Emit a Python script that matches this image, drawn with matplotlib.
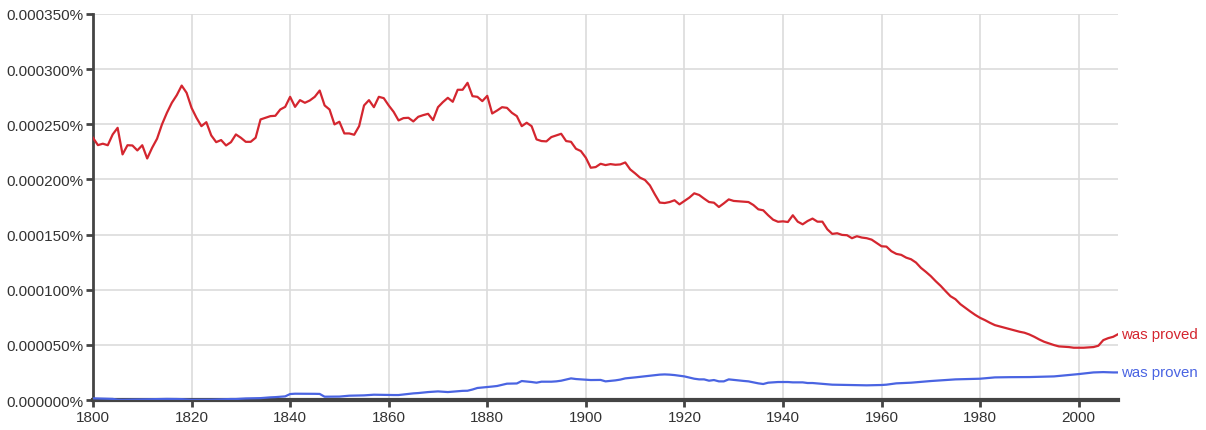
import numpy as np
import matplotlib.pyplot as plt
from matplotlib.ticker import FuncFormatter

plt.rcParams['font.family'] = ['Liberation Sans', 'DejaVu Sans']

years = list(range(1800, 2009))

# values in millionths of a percent
was_proved = [
    237.8, 231.1, 232.4, 231.0, 240.8, 246.8, 222.7, 231.0, 230.8, 226.3,
    231.0, 219.0, 228.7, 236.9, 249.9, 260.4, 269.5, 276.4, 285.1, 278.5,
    264.9, 255.9, 248.3, 251.9, 239.9, 233.8, 235.7, 230.8, 233.8, 240.8,
    237.8, 234.1, 234.1, 237.8, 254.4, 255.9, 257.4, 257.7, 263.4, 265.8,
    274.9, 265.8, 271.9, 269.5, 271.6, 274.9, 280.6, 267.1, 263.4, 249.9,
    252.3, 241.7, 241.7, 240.5, 248.3, 267.1, 271.9, 265.5, 274.9, 273.7,
    267.1, 261.3, 253.5, 255.6, 255.9, 252.6, 256.8, 258.3, 259.5, 253.8,
    265.5, 270.1, 274.0, 270.4, 281.3, 281.3, 287.6, 275.5, 274.9, 271.0,
    275.8, 259.8, 262.5, 265.5, 264.9, 260.4, 257.4, 248.3, 251.4, 248.3,
    236.3, 234.8, 234.5, 238.4, 239.9, 241.4, 234.8, 234.1, 227.8, 225.7,
    219.7, 210.6, 211.2, 214.2, 213.0, 213.9, 213.3, 213.6, 215.4, 209.1,
    205.5, 201.6, 199.5, 194.6, 186.5, 179.0, 178.6, 179.5, 181.1, 177.4,
    180.5, 183.5, 187.4, 185.9, 182.6, 179.5, 178.9, 175.0, 178.3, 181.9,
    180.5, 180.2, 179.8, 179.5, 176.8, 172.9, 172.0, 167.5, 163.5, 161.6,
    162.0, 161.4, 167.5, 161.7, 159.3, 162.3, 164.5, 161.7, 161.7, 154.8,
    150.6, 151.2, 149.7, 149.4, 146.7, 148.5, 147.3, 146.7, 145.4, 142.4,
    139.4, 139.1, 134.9, 132.5, 131.6, 129.1, 127.6, 124.6, 119.8, 116.2,
    112.3, 107.7, 103.5, 98.7, 94.1, 91.4, 86.9, 83.6, 80.3, 77.2,
    74.5, 72.4, 70.0, 67.9, 66.7, 65.5, 64.3, 63.1, 61.9, 61.0,
    59.4, 57.3, 54.9, 52.8, 51.3, 49.8, 48.6, 48.3, 48.0, 47.4,
    47.4, 47.4, 47.7, 48.0, 49.2, 54.3, 56.1, 57.3, 59.7,
]

was_proven = [
    1.5, 1.4, 1.3, 1.2, 1.0, 0.3, 0.2, 0.3, 0.4, 0.5,
    0.6, 0.7, 0.8, 0.9, 1.0, 1.0, 1.0, 0.9, 0.8, 0.5,
    0.2, 0.2, 0.2, 0.2, 0.3, 0.4, 0.6, 0.8, 0.9, 0.9,
    1.2, 1.4, 1.5, 1.6, 1.7, 2.1, 2.4, 2.6, 3.0, 3.3,
    5.4, 5.7, 5.7, 5.7, 5.6, 5.6, 5.5, 3.0, 3.0, 3.0,
    3.1, 3.5, 3.9, 4.0, 4.1, 4.2, 4.5, 4.8, 4.7, 4.6,
    4.5, 4.5, 4.5, 5.0, 5.5, 6.0, 6.3, 6.8, 7.2, 7.5,
    7.8, 7.5, 7.2, 7.6, 8.1, 8.3, 8.4, 9.5, 10.9, 11.3,
    11.8, 12.2, 12.7, 13.8, 14.8, 14.9, 15.0, 17.2, 16.8, 16.3,
    15.7, 16.6, 16.6, 16.6, 16.9, 17.5, 18.5, 19.6, 19.0, 18.7,
    18.5, 18.1, 18.1, 18.2, 16.9, 17.3, 17.8, 18.5, 19.6, 20.0,
    20.5, 21.0, 21.4, 22.0, 22.6, 23.0, 23.2, 23.0, 22.6, 22.0,
    21.4, 20.3, 19.3, 18.7, 18.7, 17.5, 18.1, 16.9, 16.9, 18.7,
    18.2, 17.8, 17.3, 16.9, 16.0, 15.1, 14.5, 15.7, 16.0, 16.3,
    16.3, 16.3, 16.0, 16.0, 16.0, 15.4, 15.4, 15.0, 14.7, 14.3,
    13.9, 13.8, 13.6, 13.5, 13.4, 13.3, 13.3, 13.3, 13.4, 13.5,
    13.6, 13.9, 14.5, 15.1, 15.3, 15.5, 15.7, 16.1, 16.5, 16.8,
    17.2, 17.5, 17.8, 18.1, 18.4, 18.7, 18.8, 18.9, 19.1, 19.2,
    19.3, 19.7, 20.1, 20.5, 20.6, 20.6, 20.7, 20.7, 20.7, 20.7,
    20.8, 20.9, 21.0, 21.1, 21.3, 21.4, 21.8, 22.2, 22.7, 23.1,
    23.5, 24.0, 24.6, 25.0, 25.2, 25.3, 25.1, 25.0, 25.0,
]

labels = ["was proved", "was proven"]
colors = ["#d4262f", "#4a64e2"]

fig = plt.figure(figsize=(12.06, 4.31), dpi=100)
ax = fig.add_axes([0.0771, 0.0696, 0.850, 0.8956])

series = [np.array(was_proved) * 1e-6, np.array(was_proven) * 1e-6]
for ys, lab, col in zip(series, labels, colors):
    ax.plot(years, ys, color=col, lw=1.6, solid_joinstyle='round', zorder=3)
    ax.text(2008 + 0.6, ys[-1], lab, color=col, fontsize=10.8,
            va='center', ha='left', clip_on=False)

ax.set_xlim(1800, 2008)
ax.set_ylim(0, 0.00035)
ax.set_xticks(range(1800, 2001, 20))
ax.set_yticks(np.arange(0, 0.000351, 0.00005))
ax.yaxis.set_major_formatter(FuncFormatter(lambda v, p: f"{v:.6f}%"))

ax.grid(True, color='#dcdcdc', lw=1.2, zorder=0)
for s in ['top', 'right']:
    ax.spines[s].set_visible(False)
ax.spines['left'].set_color('#444444')
ax.spines['left'].set_linewidth(2)
ax.spines['bottom'].set_color('#444444')
ax.spines['bottom'].set_linewidth(3)
ax.tick_params(axis='both', colors='#444444', labelcolor='#333333',
               labelsize=11, width=2, length=5, pad=2)

fig.savefig("out.png", dpi=100)
